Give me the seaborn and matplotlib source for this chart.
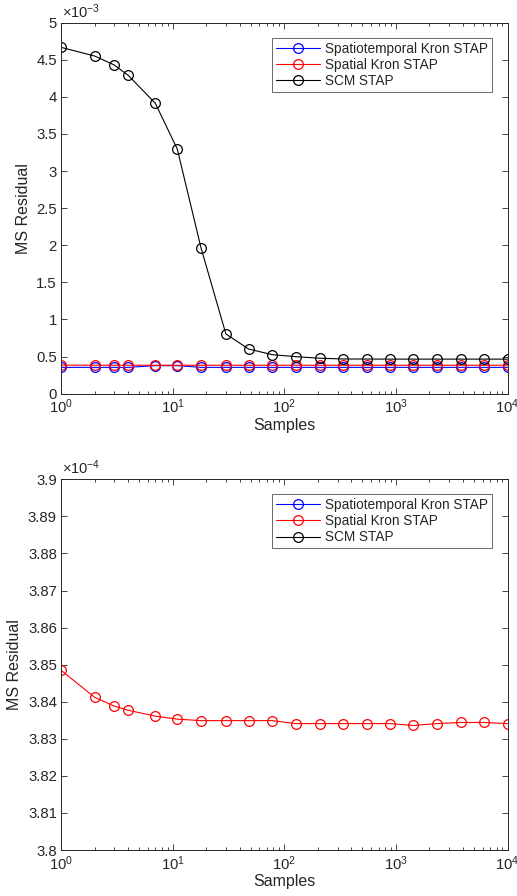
import numpy as np
import pandas as pd
import matplotlib
matplotlib.use("Agg")
import matplotlib.pyplot as plt
import seaborn as sns
from matplotlib.ticker import FixedLocator, FixedFormatter, LogLocator, NullFormatter

# ---- data ----
samples = [1, 2, 3, 4, 7, 11, 18, 30, 48, 78, 127, 207, 336, 546, 886,
           1438, 2336, 3793, 6158, 10000]
st_kron = [0.355e-3, 0.355e-3, 0.355e-3, 0.355e-3, 0.378e-3, 0.378e-3, 0.355e-3,
           0.355e-3, 0.355e-3, 0.355e-3, 0.355e-3, 0.355e-3, 0.355e-3, 0.355e-3,
           0.355e-3, 0.355e-3, 0.355e-3, 0.355e-3, 0.355e-3, 0.355e-3]
sp_kron = [3.8485e-4, 3.8412e-4, 3.8388e-4, 3.8377e-4, 3.8361e-4, 3.8353e-4,
           3.8349e-4, 3.8349e-4, 3.8349e-4, 3.8349e-4, 3.8341e-4, 3.8341e-4,
           3.8341e-4, 3.8341e-4, 3.8341e-4, 3.8336e-4, 3.8341e-4, 3.8344e-4,
           3.8344e-4, 3.8341e-4]
scm = [4.668e-3, 4.551e-3, 4.430e-3, 4.291e-3, 3.914e-3, 3.298e-3, 1.960e-3,
       0.805e-3, 0.602e-3, 0.526e-3, 0.499e-3, 0.478e-3, 0.468e-3, 0.467e-3,
       0.466e-3, 0.466e-3, 0.466e-3, 0.466e-3, 0.466e-3, 0.466e-3]
series_names = ["Spatiotemporal Kron STAP", "Spatial Kron STAP", "SCM STAP"]
series_colors = ["#0000ff", "#ff0000", "#000000"]

top_yticks = [0, 0.5, 1, 1.5, 2, 2.5, 3, 3.5, 4, 4.5, 5]
top_ylabels = ["0", "0.5", "1", "1.5", "2", "2.5", "3", "3.5", "4", "4.5", "5"]
bot_yticks = [3.80, 3.81, 3.82, 3.83, 3.84, 3.85, 3.86, 3.87, 3.88, 3.89, 3.90]
bot_ylabels = ["3.8", "3.81", "3.82", "3.83", "3.84", "3.85", "3.86", "3.87",
               "3.88", "3.89", "3.9"]
xticks = [1, 10, 100, 1000, 10000]
xlabels = [r"$10^{0}$", r"$10^{1}$", r"$10^{2}$", r"$10^{3}$", r"$10^{4}$"]

df = pd.DataFrame({
    "Samples": samples * 3,
    "value": st_kron + sp_kron + scm,
    "series": [series_names[0]] * len(samples) + [series_names[1]] * len(samples)
              + [series_names[2]] * len(samples),
})

sns.set_style("white")
plt.rcParams["font.family"] = ["Liberation Sans", "DejaVu Sans"]
plt.rcParams["mathtext.default"] = "regular"

fig = plt.figure(figsize=(5.17, 8.96), dpi=100)
ax1 = fig.add_axes([61 / 517, 1 - 393.7 / 896, 446.5 / 517, 371 / 896])
ax2 = fig.add_axes([61 / 517, 1 - 850 / 896, 446.5 / 517, 370.7 / 896])

axcol = "#262626"

def draw(ax, scale, yticks, ylabels, ylim, exp_text):
    for name, col in zip(series_names, series_colors):
        sub = df[df["series"] == name].copy()
        sub["scaled"] = sub["value"] * scale
        sns.lineplot(data=sub, x="Samples", y="scaled", ax=ax, color=col,
                     marker="o", markersize=7, markerfacecolor="none",
                     markeredgecolor=col, markeredgewidth=0.9, linewidth=0.8,
                     label=name, clip_on=True)
    ax.set_xscale("log")
    ax.set_xlim(1, 10000)
    ax.set_ylim(*ylim)
    ax.xaxis.set_major_locator(FixedLocator(xticks))
    ax.xaxis.set_major_formatter(FixedFormatter(xlabels))
    ax.xaxis.set_minor_locator(LogLocator(base=10, subs=np.arange(2, 10)))
    ax.xaxis.set_minor_formatter(NullFormatter())
    ax.yaxis.set_major_locator(FixedLocator(yticks))
    ax.yaxis.set_major_formatter(FixedFormatter(ylabels))
    ax.tick_params(which="major", direction="in", length=4.5, width=0.6,
                   top=True, right=True, bottom=True, left=True,
                   labelsize=10.7, colors=axcol, pad=3)
    ax.tick_params(which="minor", direction="in", length=2.5, width=0.6,
                   top=True, bottom=True)
    for sp in ax.spines.values():
        sp.set_visible(True)
        sp.set_color(axcol)
        sp.set_linewidth(0.7)
    ax.set_xlabel("Samples", fontsize=11.5, color=axcol, labelpad=1)
    ax.set_ylabel("MS Residual", fontsize=11.5, color=axcol, labelpad=4)
    ax.text(0.003, 1.005, exp_text, transform=ax.transAxes, ha="left",
            va="bottom", fontsize=10.5, color=axcol)
    leg = ax.legend(loc="upper right", bbox_to_anchor=(0.966, 0.96),
                    borderaxespad=0, fancybox=False, frameon=True,
                    fontsize=9.8, handlelength=3.2, handletextpad=0.4,
                    labelspacing=0.15, borderpad=0.3)
    leg.get_frame().set_edgecolor(axcol)
    leg.get_frame().set_linewidth(0.6)

draw(ax1, 1e3, top_yticks, top_ylabels, (0, 5), r"$\times10^{-3}$")
draw(ax2, 1e4, bot_yticks, bot_ylabels, (3.8, 3.9), r"$\times10^{-4}$")

fig.savefig("out.png", dpi=100)
